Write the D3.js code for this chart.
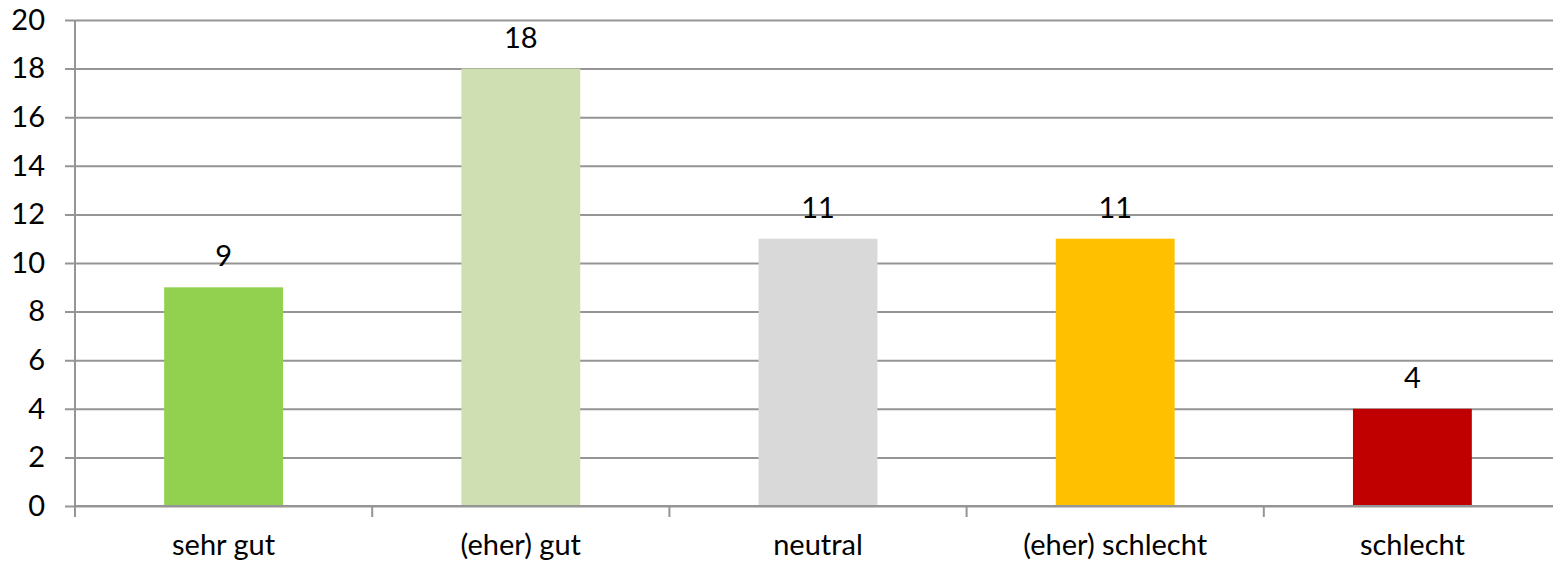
<!DOCTYPE html>
<html>
<head>
<meta charset="utf-8">
<script src="https://cdn.jsdelivr.net/npm/d3@7"></script>
<style>
  html, body { margin: 0; padding: 0; background: #fff; }
  svg { display: block; }
  text { font-family: Lato, "Open Sans", sans-serif; fill: #000; }
</style>
</head>
<body>
<svg id="chart" width="1553" height="566"></svg>
<script>
// Ratings and their counts
const categories = ["sehr gut", "(eher) gut", "neutral", "(eher) schlecht", "schlecht"];
const counts = [9, 18, 11, 11, 4];
const barColors = ["#92D050", "#D0DFB1", "#D9D9D9", "#FFC000", "#C00000"];
const yTicks = [0, 2, 4, 6, 8, 10, 12, 14, 16, 18, 20];

const svg = d3.select("#chart");
const plotLeft = 75, plotRight = 1561, plotTop = 20, plotBottom = 506;
const gridColor = "#959595";
const fontSize = 29;

const x = d3.scaleBand()
  .domain(categories)
  .range([plotLeft, plotRight])
  .paddingInner(0.6)
  .paddingOuter(0.3);

const y = d3.scaleLinear()
  .domain([0, 20])
  .range([plotBottom, plotTop]);

// Horizontal gridlines with tick marks reaching left of the axis
const yAxis = d3.axisLeft(y)
  .tickValues(yTicks)
  .tickSize(-(plotRight - plotLeft))
  .tickSizeOuter(0)
  .tickPadding(30)
  .tickFormat(d3.format("d"));

const gy = svg.append("g")
  .attr("transform", `translate(${plotLeft},0)`)
  .call(yAxis);
gy.select(".domain").remove();
gy.selectAll(".tick line")
  .attr("x1", -10)
  .attr("stroke", gridColor)
  .attr("stroke-width", 2);
gy.selectAll(".tick text")
  .attr("font-size", fontSize)
  .attr("font-family", "Lato, 'Open Sans', sans-serif")
  .attr("fill", "#000");

// Vertical value axis line
svg.append("line")
  .attr("x1", plotLeft).attr("x2", plotLeft)
  .attr("y1", y(20)).attr("y2", y(0) + 11)
  .attr("stroke", gridColor)
  .attr("stroke-width", 2);

// Bars
svg.append("g").selectAll("rect")
  .data(categories)
  .join("rect")
  .attr("x", d => x(d))
  .attr("y", (d, i) => y(counts[i]))
  .attr("width", x.bandwidth())
  .attr("height", (d, i) => y(0) - y(counts[i]))
  .attr("fill", (d, i) => barColors[i]);

// Category axis: baseline plus tick marks between categories
const step = x.step();
const boundaries = d3.range(categories.length + 1).map(i => plotLeft + i * step);
svg.append("line")
  .attr("x1", plotLeft).attr("x2", plotRight)
  .attr("y1", y(0)).attr("y2", y(0))
  .attr("stroke", gridColor)
  .attr("stroke-width", 2);
svg.append("g").selectAll("line")
  .data(boundaries)
  .join("line")
  .attr("x1", d => d).attr("x2", d => d)
  .attr("y1", y(0)).attr("y2", y(0) + 11)
  .attr("stroke", gridColor)
  .attr("stroke-width", 2);

svg.append("g").selectAll("text")
  .data(categories)
  .join("text")
  .attr("x", d => x(d) + x.bandwidth() / 2)
  .attr("y", 555)
  .attr("text-anchor", "middle")
  .attr("font-size", fontSize)
  .text(d => d);

// Value labels above each bar
svg.append("g").selectAll("text")
  .data(categories)
  .join("text")
  .attr("x", d => x(d) + x.bandwidth() / 2)
  .attr("y", (d, i) => y(counts[i]) - 21)
  .attr("text-anchor", "middle")
  .attr("font-size", fontSize)
  .text((d, i) => counts[i]);
</script>
</body>
</html>
